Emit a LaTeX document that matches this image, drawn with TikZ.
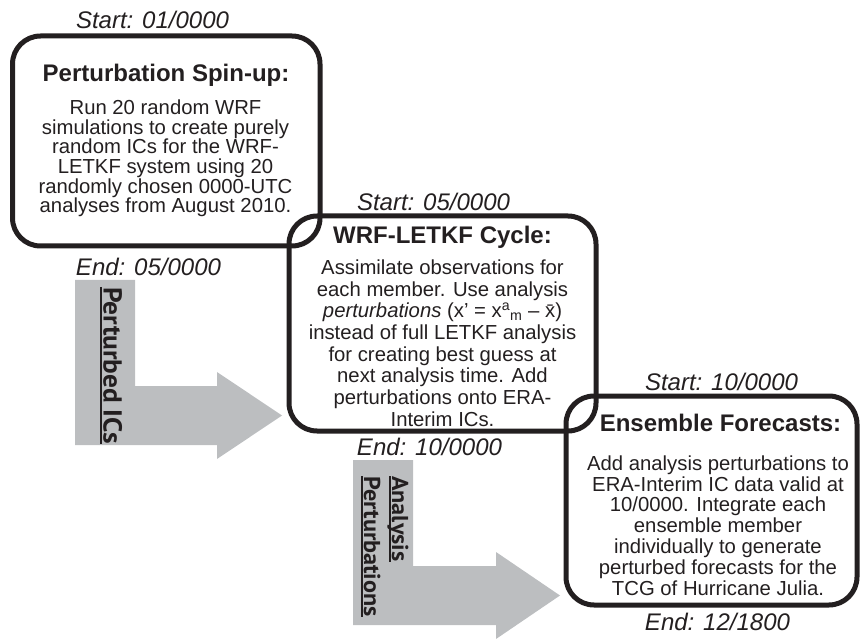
\documentclass[tikz,border=0pt]{standalone}
\usepackage{fontspec}
\setmainfont{Liberation Sans}
\newfontfamily\arrfont[FakeStretch=1.05]{PT Sans}
\definecolor{ink}{HTML}{231F20}
\definecolor{arrgrey}{HTML}{BCBEC0}
\begin{document}
\begin{tikzpicture}[x=1pt,y=-1pt,
  stagebox/.style={draw=ink, line width=5pt, rounded corners=28pt, rectangle, inner sep=0pt, outer sep=0pt},
  title/.style={font=\fontsize{24}{28}\selectfont\bfseries, text=ink, inner sep=0pt, anchor=base},
  body/.style={font=\fontsize{20.3}{#1}\selectfont, text=ink, inner sep=0pt, anchor=north, align=center},
  timelab/.style={font=\fontsize{24}{28}\selectfont\itshape, text=ink, inner sep=0pt, anchor=base},
  flow/.style={fill=arrgrey},
  rotlab/.style={rotate=-90, font=\arrfont\fontsize{#1}{#1}\selectfont\bfseries, text=ink, inner sep=0pt, text depth=0pt, anchor=south west},
  uline/.style={draw=ink, line width=2pt}
]
\useasboundingbox (0,0) rectangle (863,639);

% grey flow arrows
\fill[flow] (75,280) -- (135,280) -- (135,386) -- (217,386) -- (217,372) -- (282,415.5)
  -- (217,459) -- (217,445) -- (75,445) -- cycle;
\fill[flow] (353,460) -- (413,460) -- (413,566) -- (496,566) -- (496,552) -- (560,595.5)
  -- (496,639) -- (496,625) -- (353,625) -- cycle;

\node[rotlab=26] (ics) at (103.5,287) {Perturbed ICs};
\draw[uline] ([xshift=-2.5pt]ics.south west) -- ([xshift=-2.5pt]ics.south east);
\node[rotlab=23] (ana) at (392,476) {Analysis};
\draw[uline] ([xshift=-2.5pt]ana.south west) -- ([xshift=-2.5pt]ana.south east);
\node[rotlab=23] (pert) at (364,476) {Perturbations};
\draw[uline] ([xshift=-2.5pt]pert.south west) -- ([xshift=-2.5pt]pert.south east);

% boxes
\node[stagebox, minimum width=307.5pt, minimum height=210pt] (box1) at (166.25,141) {};
\node[stagebox, minimum width=307pt, minimum height=215pt] (box2) at (442.5,323.5) {};
\node[stagebox, minimum width=291pt, minimum height=209pt] (box3) at (711.5,500.5) {};

% box 1
\node[timelab] (s1) at (152.5,28.6) {Start: 01/0000};
\node[title] (t1) at (166,81.6) {Perturbation Spin-up:};
\node[body=19.7] (b1) at (165.5,99.4) {Run 20 random WRF\\
simulations to create purely\\
random ICs for the WRF-\\
LETKF system using 20\\
randomly chosen 0000-UTC\\
analyses from August 2010.};
\node[timelab] (e1) at (148.5,276) {End: 05/0000};

% box 2
\node[timelab] (s2) at (433.5,210.6) {Start: 05/0000};
\node[title] (t2) at (442.5,243.6) {WRF-LETKF Cycle:};
\node[body=21.7] (b2) at (442.5,259.4) {Assimilate observations for\\
each member. Use analysis\\
\textit{perturbations} (x’ = x\textsuperscript{a}\textsubscript{m} – \={x})\\
instead of full LETKF analysis\\
for creating best guess at\\
next analysis time. Add\\
perturbations onto ERA-\\
Interim ICs.};
\node[timelab] (e2) at (429.5,455.6) {End: 10/0000};

% box 3
\node[timelab] (s3) at (721.5,390.6) {Start: 10/0000};
\node[title] (t3) at (720.5,431.6) {Ensemble Forecasts:};
\node[body=20.8] (b3) at (718,455.4) {Add analysis perturbations to\\
ERA-Interim IC data valid at\\
10/0000. Integrate each\\
ensemble member\\
individually to generate\\
perturbed forecasts for the\\
TCG of Hurricane Julia.};
\node[timelab] (e3) at (717.5,630.6) {End: 12/1800};
\end{tikzpicture}
\end{document}
